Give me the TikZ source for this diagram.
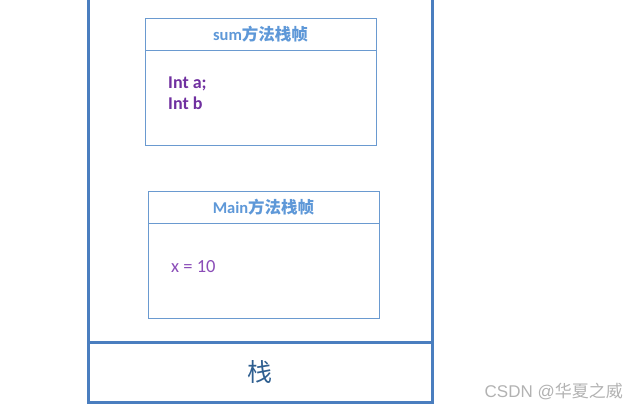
\documentclass[tikz,border=0pt]{standalone}
\usepackage{fontspec}
\setmainfont{Carlito}
\newfontfamily\cjk{Noto Sans CJK SC}
\newfontfamily\marksans{Liberation Sans}
\usepackage{tikz}
\usetikzlibrary{positioning}
\definecolor{StackLine}{HTML}{4A7EBF}
\definecolor{FrameLine}{HTML}{6A9AD0}
\definecolor{HeadText}{HTML}{5E98D8}
\definecolor{VarText}{HTML}{7030A0}
\definecolor{ValText}{HTML}{8B4DB8}
\definecolor{StackText}{HTML}{2F5F90}
\begin{document}
\begin{tikzpicture}[x=1pt,y=-1pt]
  \tikzstyle{stackwall}=[draw=StackLine,line width=3pt]
  \tikzstyle{frame}=[draw=FrameLine,line width=0.8pt,fill=white,
    minimum width=231pt,minimum height=127pt,inner sep=0pt]
  \tikzstyle{framehead}=[draw=FrameLine,line width=0.8pt,anchor=north,
    minimum width=231pt,minimum height=32pt,inner sep=0pt,
    font=\fontsize{16.5}{18}\selectfont\bfseries,text=HeadText]
  \tikzstyle{framevar}=[anchor=base west,inner sep=0pt,
    font=\fontsize{18}{22}\selectfont\bfseries,text=VarText]
  \useasboundingbox (0,0) rectangle (638,410);
  \clip (0,0) rectangle (638,410);
  % stack
  \node[stackwall,minimum width=344pt,minimum height=420pt,inner sep=0pt] (stack) at (260,192) {};
  \node[stackwall,minimum width=344pt,minimum height=60pt,inner sep=0pt,
    font=\cjk\fontsize{25}{27}\selectfont,text=StackText] (stacklabel) at (260,372) {栈};
  % sum frame
  \node[frame] (sumframe) at (260.5,81.5) {};
  \node[framehead] (sumhead) at (sumframe.north) {sum{\cjk 方法栈帧}};
  \node[framevar] (sumvara) at (168,88) {Int a;};
  \node[framevar] (sumvarb) at (168,109.5) {Int b};
  % main frame
  \node[frame] (mainframe) at (263.5,254.5) {};
  \node[framehead] (mainhead) at (mainframe.north) {Main{\cjk 方法栈帧}};
  \node[framevar,font=\fontsize{18.5}{20}\selectfont,text=ValText] (mainvar) at (171,272) {x = 10};
  % watermark
  \node[anchor=base east,inner sep=0pt,text=gray!60,font=\fontsize{17}{19}\selectfont] (mark) at (623,397)
    {\marksans CSDN @\cjk 华夏之威};
\end{tikzpicture}
\end{document}
